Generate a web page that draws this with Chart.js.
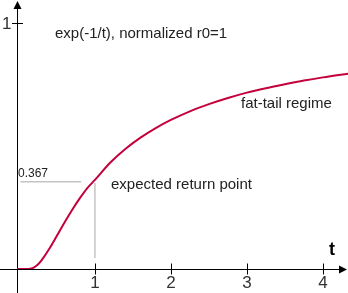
<!DOCTYPE html>
<html><head><meta charset="utf-8">
<script src="https://cdn.jsdelivr.net/npm/chart.js@4"></script>
<style>html,body{margin:0;padding:0;background:#fff;}canvas{display:block;}</style>
</head><body>
<canvas id="c" width="348" height="293"></canvas>
<script>
// curve exp(-1/t)
const tValues = [-0.03, 0, 0.1, 0.15, 0.2, 0.25, 0.3, 0.4, 0.5, 0.6, 0.7, 0.8, 0.9, 1.0, 1.2, 1.4, 1.6, 1.8, 2.0, 2.25, 2.5, 2.75, 3.0, 3.25, 3.5, 3.75, 4.0, 4.35];
const yValues = [0, 0, 0, 0.0013, 0.0067, 0.018, 0.036, 0.082, 0.135, 0.189, 0.240, 0.287, 0.329, 0.362, 0.432, 0.488, 0.534, 0.573, 0.606, 0.641, 0.670, 0.695, 0.717, 0.735, 0.751, 0.766, 0.779, 0.795];
const xTicks = [1, 2, 3, 4];
const yTicks = [1];
const refT = 1;
const refHLine = [[0.02, 0.355], [0.82, 0.355]];
const refVLine = [[refT, 0.045], [refT, 0.35]];
const axisLabel = 't';
const texts = ['exp(-1/t), normalized r0=1', 'fat-tail regime', 'expected return point', '0.367'];

const curve = tValues.map((t, i) => ({x: t, y: yValues[i]}));
const toPts = a => a.map(p => ({x: p[0], y: p[1]}));

const axesPlugin = {
  id: 'axes',
  beforeDatasetsDraw(chart) {
    const ctx = chart.ctx, xs = chart.scales.x, ys = chart.scales.y;
    const oy = Math.round(ys.getPixelForValue(0)) + 0.5;
    ctx.save();
    ctx.strokeStyle = '#000'; ctx.fillStyle = '#000'; ctx.lineWidth = 1;
    ctx.beginPath();
    ctx.moveTo(17.5, 8); ctx.lineTo(17.5, 293);
    ctx.moveTo(0, oy); ctx.lineTo(340, oy);
    ctx.stroke();
    // arrows
    ctx.beginPath(); ctx.moveTo(17.5, 1); ctx.lineTo(13.5, 9); ctx.lineTo(21.5, 9); ctx.closePath(); ctx.fill();
    ctx.beginPath(); ctx.moveTo(347, oy); ctx.lineTo(339, oy - 4); ctx.lineTo(339, oy + 4); ctx.closePath(); ctx.fill();
    // ticks
    ctx.beginPath();
    xTicks.forEach(v => { const px = Math.round(xs.getPixelForValue(v)) + 0.5; ctx.moveTo(px, oy - 6); ctx.lineTo(px, oy + 5); });
    yTicks.forEach(v => { const py = Math.round(ys.getPixelForValue(v)) + 0.5; ctx.moveTo(12, py); ctx.lineTo(23, py); });
    ctx.stroke();
    ctx.fillStyle = '#333';
    ctx.font = '17px "Liberation Sans", Arial, sans-serif';
    ctx.textAlign = 'center'; ctx.textBaseline = 'alphabetic';
    xTicks.forEach(v => ctx.fillText(String(v), xs.getPixelForValue(v), 288));
    ctx.textAlign = 'left';
    yTicks.forEach(v => ctx.fillText(String(v), 2, ys.getPixelForValue(v) + 6));
    ctx.fillStyle = '#000';
    ctx.font = 'bold 18px "Liberation Sans", Arial, sans-serif';
    ctx.fillText(axisLabel, 329, 255);
    ctx.fillStyle = '#222';
    ctx.font = '15px "Liberation Sans", Arial, sans-serif';
    ctx.fillText(texts[0], 55, 38);
    ctx.fillText(texts[1], 241, 108);
    ctx.fillText(texts[2], 111, 189);
    ctx.font = '12px "Liberation Sans", Arial, sans-serif';
    ctx.fillText(texts[3], 18, 177);
    ctx.restore();
  }
};

new Chart(document.getElementById('c'), {
  type: 'scatter',
  data: {
    datasets: [
      {data: toPts(refHLine), showLine: true, borderColor: '#c4c4c4', borderWidth: 1.5, pointRadius: 0},
      {data: toPts(refVLine), showLine: true, borderColor: '#c4c4c4', borderWidth: 1.5, pointRadius: 0},
      {data: curve, showLine: true, borderColor: '#c4003c', borderWidth: 2, pointRadius: 0, cubicInterpolationMode: 'monotone'}
    ]
  },
  options: {
    responsive: false, animation: false, devicePixelRatio: 1,
    layout: {padding: {left: 17, right: 0, top: 0, bottom: 24}},
    plugins: {legend: {display: false}, tooltip: {enabled: false}},
    scales: {
      x: {type: 'linear', display: false, min: -0.025, max: 4.33},
      y: {type: 'linear', display: false, min: 0, max: 269 / 246}
    }
  },
  plugins: [axesPlugin]
});
</script>
</body></html>
